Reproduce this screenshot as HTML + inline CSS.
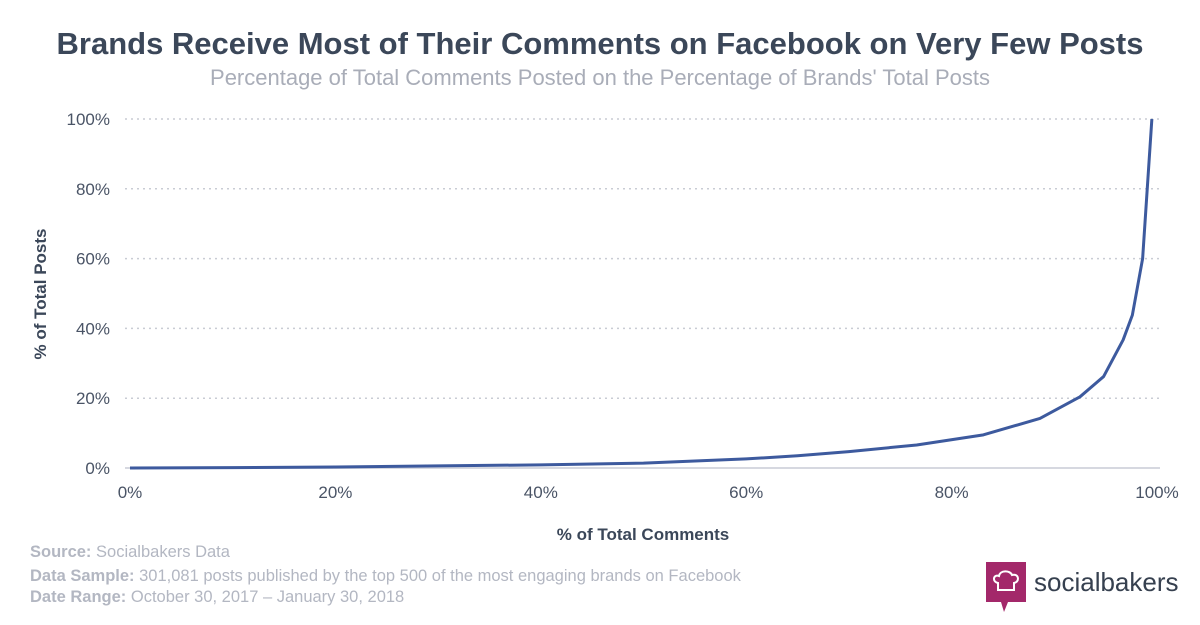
<!DOCTYPE html>
<html><head><meta charset="utf-8"><style>
body{margin:0;background:#fff;font-family:"Liberation Sans",sans-serif;}
#wrap{position:relative;width:1200px;height:625px;overflow:hidden;}
.t{position:absolute;white-space:nowrap;}
</style></head><body>
<div id="wrap">
<div class="t" style="left:0;width:1200px;text-align:center;top:26px;font-size:31px;font-weight:bold;color:#3b4759;">Brands Receive Most of Their Comments on Facebook on Very Few Posts</div>
<div class="t" style="left:0;width:1200px;text-align:center;top:65px;font-size:22px;color:#a9adb8;">Percentage of Total Comments Posted on the Percentage of Brands' Total Posts</div>
<svg id="svg" width="1200" height="625" style="position:absolute;left:0;top:0"></svg>
<div class="t" style="left:30px;top:543px;font-size:16.5px;color:#b3b7c2;"><b>Source:</b> Socialbakers Data</div>
<div class="t" style="left:30px;top:567px;font-size:16.5px;color:#b3b7c2;"><b>Data Sample:</b> 301,081 posts published by the top 500 of the most engaging brands on Facebook</div>
<div class="t" style="left:30px;top:588px;font-size:16.5px;color:#b3b7c2;"><b>Date Range:</b> October 30, 2017 – January 30, 2018</div>
<div style="position:absolute;left:986px;top:562px;">
<svg width="40" height="50" style="position:absolute;left:0;top:0"><path d="M0 0H40V40H22L18 50L15 40H0Z" fill="#a3286a"/><path d="M12 28V21C6 20 7 12 13 14C14 8 24 8 26 13C33 11 34 20 28 21V28Z" fill="none" stroke="#fff" stroke-width="2"/></svg>
<div class="t" style="left:48px;top:5px;font-size:26px;color:#36404f;">socialbakers</div>
</div>
</div>
<script>
const xVals=[0,10,20,30,40,50,60,65,70,76.6,83.1,88.6,92.5,94.8,96.7,97.6,98.6,99.5];
const yVals=[0,0.1,0.3,0.6,0.9,1.4,2.6,3.5,4.7,6.6,9.5,14.2,20.4,26.2,36.7,43.8,60,100];
const xTicks=["0%","20%","40%","60%","80%","100%"];
const yTicks=["0%","20%","40%","60%","80%","100%"];
const NS="http://www.w3.org/2000/svg";
const svg=document.getElementById('svg');
const X=v=>130+v/100*1027, Y=v=>468-v/100*349;
function mk(t,a){const e=document.createElementNS(NS,t);for(const k in a)e.setAttribute(k,a[k]);svg.appendChild(e);return e;}
yTicks.forEach((l,i)=>{const v=i*20;
 if(i>0){const g=mk('line',{x1:125,x2:1160,y1:Y(v),y2:Y(v),stroke:'#c9ccd4','stroke-width':1.5,'stroke-dasharray':'2 4'});
 
 }
 const t=mk('text',{x:110,y:Y(v)+6,'text-anchor':'end','font-size':17,fill:'#4a5466','font-family':'Liberation Sans'});t.textContent=l;
 
 
});
xTicks.forEach((l,i)=>{const v=i*20;
 const t=mk('text',{x:X(v),y:498,'text-anchor':'middle','font-size':17,fill:'#4a5466','font-family':'Liberation Sans'});t.textContent=l;
 
 
});
const ax=mk('line',{x1:125,x2:1160,y1:468,y2:468,stroke:'#d6d8e0','stroke-width':2});


const p=mk('polyline',{points:xVals.map((x,i)=>X(x)+','+Y(yVals[i])).join(' '),fill:'none',stroke:'#3d5a9e','stroke-width':3,'stroke-linejoin':'round'});


const xt=mk('text',{x:643,y:540,'text-anchor':'middle','font-size':17,'font-weight':'bold',fill:'#3b4759','font-family':'Liberation Sans'});xt.textContent='% of Total Comments';


const yt=mk('text',{x:0,y:0,transform:'translate(46,294) rotate(-90)','text-anchor':'middle','font-size':17,'font-weight':'bold',fill:'#3b4759','font-family':'Liberation Sans'});yt.textContent='% of Total Posts';


</script>
</body></html>
